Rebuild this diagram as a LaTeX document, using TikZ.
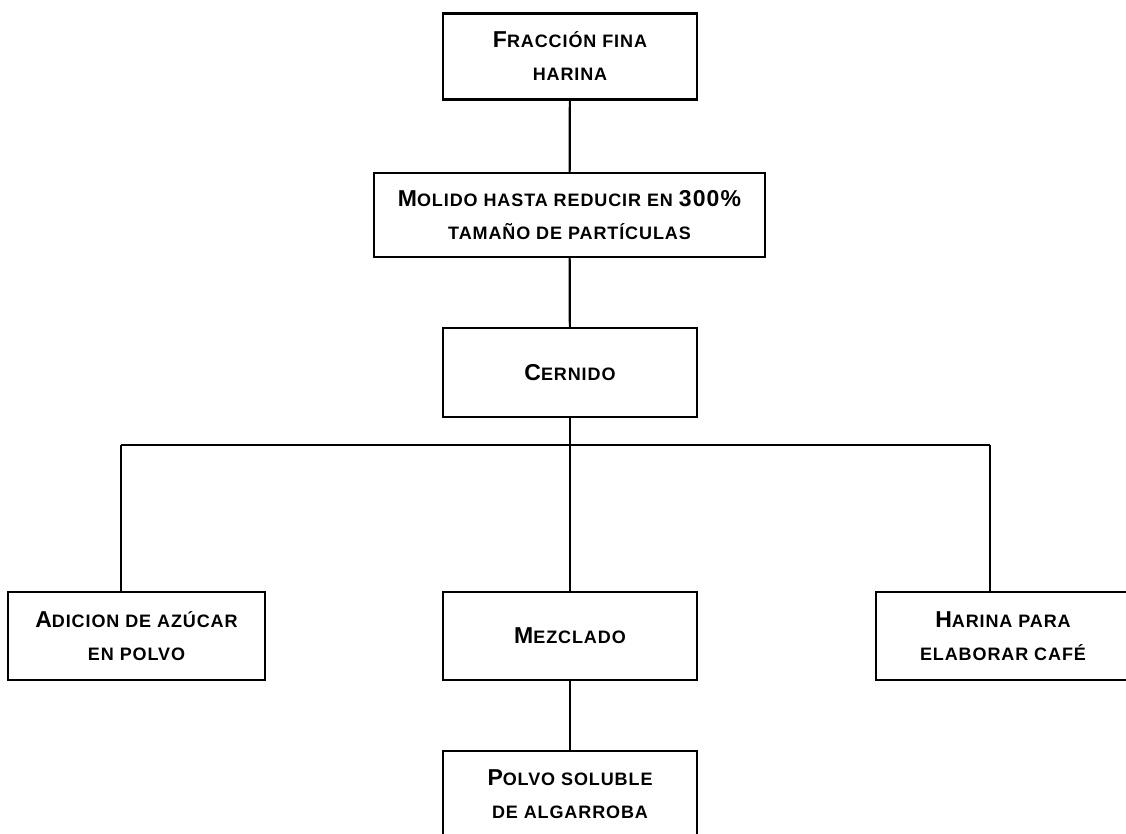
\documentclass[tikz,border=0pt]{standalone}
\usepackage{fontspec}
\setmainfont{Liberation Sans}[LetterSpace=5]
\usetikzlibrary{positioning}
\newcommand{\Ini}[1]{{\fontsize{23}{33}\selectfont #1}}

\begin{document}
\begin{tikzpicture}[
    x=1pt, y=-1pt,
    every node/.style={font=\bfseries\fontsize{18}{33}\selectfont},
    proc/.style={draw, line width=2.2pt, minimum width=254pt, minimum height=86pt,
        align=center, inner sep=0pt},
    link/.style={line width=2.2pt},
]
\useasboundingbox (0,0) rectangle (1126,834);

% main line
\node[proc] (frac) at (570,56.5) {\Ini{F}RACCIÓN FINA\\HARINA};
\node[proc, minimum width=391pt, minimum height=84pt] (mol) at (569.5,215)
    {\Ini{M}OLIDO HASTA REDUCIR EN \Ini{300\%}\\TAMAÑO DE PARTÍCULAS};
\node[proc, minimum height=89pt] (cer) at (570,372.5) {\Ini{C}ERNIDO};

% three branches
\node[proc, minimum width=257pt, minimum height=88pt] (adic) at (136.5,636)
    {\Ini{A}DICION DE AZÚCAR\\EN POLVO};
\node[proc, minimum height=88pt] (mez) at (570,636) {\Ini{M}EZCLADO};
\node[proc, minimum height=88pt] (har) at (1003,636)
    {\Ini{H}ARINA PARA\\ELABORAR CAFÉ};
\node[proc] (pol) at (570,794) {\Ini{P}OLVO SOLUBLE\\DE ALGARROBA};

\coordinate (bar) at (570,445);
\coordinate (jl) at (121,445);
\coordinate (jr) at (990,445);

\draw[link] (frac) -- (mol);
\draw[link] (mol) -- (cer);
\draw[link] (cer) -- (bar);
\draw[link] (jl) -- (jr);
\draw[link] (jl) -- (jl |- adic.north);
\draw[link] (bar) -- (mez);
\draw[link] (jr) -- (jr |- har.north);
\draw[link] (mez) -- (pol);
\end{tikzpicture}
\end{document}
